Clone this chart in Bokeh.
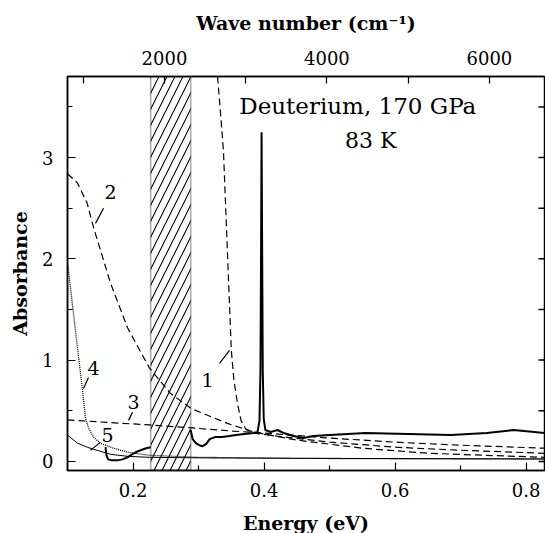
from math import pi
from bokeh.plotting import figure
from bokeh.models import Range1d, LinearAxis, FixedTicker, Label, BoxAnnotation
from bokeh.core.properties import value
from bokeh.embed import file_html
from bokeh.resources import INLINE

# ---------------- data ----------------
EV_TO_CM = 8065.54
x_lo, x_hi = 0.1, 0.828
y_lo, y_hi = -0.09, 3.8

band = [0.227, 0.288]  # opaque (hatched) window, eV

c1_e = [0.329, 0.334, 0.338, 0.344, 0.350, 0.354, 0.3595, 0.365, 0.372, 0.384, 0.42, 0.50, 0.60, 0.70, 0.828]
c1_a = [3.80, 3.40, 3.07, 2.08, 1.10, 0.80, 0.57, 0.40, 0.32, 0.28, 0.25, 0.19, 0.14, 0.11, 0.08]

c2_e = [0.100, 0.115, 0.130, 0.1397, 0.152, 0.1656, 0.1916, 0.2252, 0.2573, 0.2893, 0.344, 0.384, 0.45, 0.55, 0.65, 0.828]
c2_a = [2.84, 2.75, 2.55, 2.31, 2.05, 1.76, 1.32, 0.92, 0.67, 0.52, 0.375, 0.29, 0.21, 0.13, 0.08, 0.04]

c3_e = [0.100, 0.160, 0.2252, 0.290, 0.350, 0.400, 0.500, 0.600, 0.700, 0.828]
c3_a = [0.41, 0.385, 0.36, 0.33, 0.30, 0.28, 0.23, 0.19, 0.16, 0.13]

c4_e = [0.100, 0.1015, 0.108, 0.1153, 0.1229, 0.1275, 0.132, 0.1397, 0.150, 0.1656, 0.1916, 0.225, 0.30, 0.45, 0.828]
c4_a = [1.95, 1.89, 1.52, 1.12, 0.70, 0.43, 0.33, 0.24, 0.18, 0.14, 0.09, 0.06, 0.04, 0.03, 0.02]

c5_e = [0.100, 0.1153, 0.130, 0.1397, 0.1656, 0.1916, 0.2252, 0.30, 0.45, 0.828]
c5_a = [0.26, 0.18, 0.14, 0.12, 0.07, 0.05, 0.04, 0.035, 0.03, 0.025]

s1_e = [0.158, 0.1595, 0.162, 0.168, 0.176, 0.184, 0.1916, 0.196, 0.204, 0.2115, 0.220, 0.227]
s1_a = [0.14, 0.06, 0.02, 0.01, 0.01, 0.02, 0.04, 0.06, 0.09, 0.11, 0.13, 0.14]

s2_e = [0.288, 0.291, 0.296, 0.301, 0.306, 0.3115, 0.317, 0.325, 0.336, 0.347, 0.357, 0.370, 0.384,
        0.390, 0.393, 0.3945, 0.3955, 0.3962, 0.397, 0.398, 0.3995, 0.402, 0.410, 0.4206, 0.430,
        0.445, 0.460, 0.475, 0.500, 0.555, 0.620, 0.685, 0.740, 0.781, 0.828]
s2_a = [0.31, 0.22, 0.18, 0.16, 0.15, 0.17, 0.22, 0.24, 0.24, 0.25, 0.26, 0.27, 0.28,
        0.29, 0.40, 0.9, 2.2, 3.25, 2.2, 0.9, 0.42, 0.31, 0.29, 0.31, 0.28,
        0.25, 0.23, 0.25, 0.26, 0.28, 0.27, 0.26, 0.28, 0.31, 0.28]

lab_t = ["1", "2", "3", "4", "5"]
lab_e = [0.3137, 0.1656, 0.2008, 0.1397, 0.161]
lab_a = [0.80, 2.655, 0.582, 0.918, 0.257]
lead_e0 = [0.332, 0.155, 0.1992, 0.132, 0.150]
lead_a0 = [0.967, 2.50, 0.484, 0.829, 0.188]
lead_e1 = [0.3473, 0.1427, 0.1931, 0.1244, 0.135]
lead_a1 = [1.096, 2.35, 0.405, 0.72, 0.109]

title1 = "Deuterium, 170 GPa"
title2 = "83 K"

bottom_major = [0.2, 0.4, 0.6, 0.8]
bottom_minor = [0.1, 0.3, 0.5, 0.7]
left_major = [0, 1, 2, 3]
left_minor = [0.5, 1.5, 2.5, 3.5]
right_ticks = [0, 0.5, 1, 1.5, 2, 2.5, 3, 3.5]
top_major = [2000, 4000, 6000]
top_minor = [1000, 3000, 5000]

# ---------------- figure ----------------
FONT = "DejaVu Serif"

p = figure(frame_width=477, frame_height=394,
           x_range=Range1d(x_lo, x_hi), y_range=Range1d(y_lo, y_hi),
           output_backend="svg", toolbar_location=None,
           min_border_left=67, min_border_right=1, min_border_top=76, min_border_bottom=63,
           background_fill_color="white", border_fill_color="white")
p.xgrid.visible = False
p.ygrid.visible = False
p.outline_line_color = "black"
p.outline_line_width = 1.5

def style_axis(ax, label_size="18px"):
    ax.axis_line_color = "black"
    ax.axis_line_width = 1.5
    ax.major_tick_line_color = "black"
    ax.minor_tick_line_color = "black"
    ax.major_tick_line_width = 1.2
    ax.minor_tick_line_width = 1.2
    ax.major_tick_out = 0
    ax.minor_tick_out = 0
    ax.major_label_text_font = FONT
    ax.major_label_text_font_size = label_size
    ax.major_label_text_color = "black"
    ax.axis_label_text_font = FONT
    ax.axis_label_text_font_style = "bold"
    ax.axis_label_text_font_size = "19px"
    ax.axis_label_text_color = "black"

xa = p.xaxis[0]
style_axis(xa)
xa.ticker = FixedTicker(ticks=bottom_major, minor_ticks=bottom_minor)
xa.major_tick_in = 8
xa.minor_tick_in = 5
xa.major_label_standoff = 12
xa.axis_label = "Energy (eV)"
xa.axis_label_standoff = 12

ya = p.yaxis[0]
style_axis(ya)
ya.ticker = FixedTicker(ticks=left_major, minor_ticks=left_minor)
ya.major_tick_in = 8
ya.minor_tick_in = 5
ya.major_label_standoff = 14
ya.axis_label = "Absorbance"
ya.axis_label_standoff = 8

p.extra_x_ranges = {"wn": Range1d(x_lo * EV_TO_CM, x_hi * EV_TO_CM)}
ta = LinearAxis(x_range_name="wn", axis_label="Wave number (cm⁻¹)")
style_axis(ta)
ta.ticker = FixedTicker(ticks=top_major, minor_ticks=top_minor)
ta.major_tick_in = 7
ta.minor_tick_in = 7
ta.major_label_standoff = 12
ta.axis_label_standoff = 14
p.add_layout(ta, "above")

# right-hand frame ticks (no labels)
p.ray(x=[x_hi] * len(right_ticks), y=right_ticks, length=6, length_units="screen",
      angle=pi, line_color="black", line_width=1.5)

# hatched window
p.add_layout(BoxAnnotation(left=band[0], right=band[1], fill_alpha=0,
                           hatch_pattern="/", hatch_scale=16, hatch_weight=1.1,
                           hatch_color="black", line_color="black", line_width=1.8))

DASH = "7 4"
p.line(c1_e, c1_a, line_color="black", line_width=1.2, line_dash=DASH)
p.line(c2_e, c2_a, line_color="black", line_width=1.2, line_dash=DASH)
p.line(c3_e, c3_a, line_color="black", line_width=1.2, line_dash=DASH)
p.line(c4_e, c4_a, line_color="black", line_width=1.3, line_dash="1 1")
p.line(c5_e, c5_a, line_color="black", line_width=1.0)
p.line(s1_e, s1_a, line_color="black", line_width=2.0)
p.line(s2_e, s2_a, line_color="black", line_width=2.0)

p.segment(x0=lead_e0, y0=lead_a0, x1=lead_e1, y1=lead_a1, line_color="black", line_width=1.2)
p.text(x=lab_e, y=lab_a, text=lab_t, text_font=value(FONT), text_font_size="19px",
       text_align="center", text_baseline="middle", text_color="black")

p.add_layout(Label(x=0.543, y=3.51, text=title1, text_font=FONT, text_font_size="23px",
                   text_align="center", text_baseline="middle", text_color="black"))
p.add_layout(Label(x=0.5626, y=3.17, text=title2, text_font=FONT, text_font_size="22px",
                   text_align="center", text_baseline="middle", text_color="black"))

open("out.html", "w").write(file_html(p, INLINE))
